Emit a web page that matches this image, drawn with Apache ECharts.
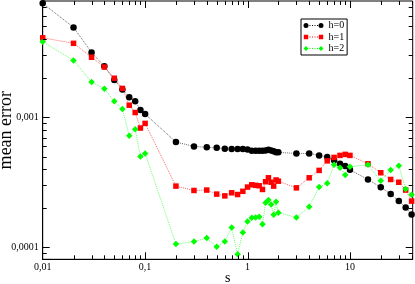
<!DOCTYPE html>
<html><head><meta charset="utf-8">
<script src="https://cdn.jsdelivr.net/npm/echarts@6/dist/echarts.min.js"></script>
<style>html,body{margin:0;padding:0;background:#fff}#c{width:415px;height:284px}</style>
</head><body><div id="c"></div>
<script>
// ---- data ----
const sValues = [0.01,0.02,0.03,0.04,0.05,0.06,0.07,0.08,0.09,0.1,
  0.2,0.3,0.4,0.5,0.6,0.7,0.8,0.9,1.0,
  1.1,1.2,1.3,1.4,1.5,1.6,1.7,1.8,1.9,2.0,
  3,4,5,6,7,8,9,10,
  15,20,25,30,35,40];
const h0 = [0.00753,0.00492,0.00316,0.00247,0.00194,0.00164,0.00143,0.00133,0.00114,0.00106,
  0.000646,0.000598,0.000588,0.000583,0.000573,0.000571,0.000571,0.000571,0.000567,
  0.000553,0.000553,0.000553,0.000553,0.000556,0.000563,0.000556,0.000548,0.00054,0.000538,
  0.000528,0.000528,0.00051,0.000495,0.000467,0.00044,0.000422,0.000395,
  0.000333,0.00029,0.000257,0.000227,0.000203,0.000179];
const h1 = [0.00409,0.00371,0.0029,0.00244,0.002,0.00167,0.00124,0.00109,0.000828,0.000899,
  0.000296,0.000274,0.000276,0.000257,0.000249,0.000263,0.000255,0.00027,0.000291,
  0.000303,0.0003,0.000298,0.000279,0.00032,0.000343,0.000317,0.000296,0.00033,0.000323,
  0.000287,0.000343,0.000391,0.000463,0.000492,0.00051,0.000519,0.00051,
  0.00044,0.000375,0.000333,0.000317,0.000276,0.000227];
const h2 = [0.00382,0.00274,0.00187,0.00166,0.00133,0.00116,0.000721,0.000809,0.000501,0.000528,
  0.000106,0.000111,0.000118,0.000101,0.000111,0.000142,0.0000887,0.00013,0.000158,
  0.000169,0.00017,0.000172,0.000151,0.00022,0.000231,0.000214,0.000178,0.000224,0.000185,
  0.00017,0.000205,0.000291,0.000311,0.000432,0.000409,0.000361,0.000417,
  0.000432,0.000325,0.000394,0.000425,0.000281,0.000254];
const seriesNames = ['h=0','h=1','h=2'];
const xTickExp = [-2,-1,0,1];
const xTickLabels = ['0,01','0,1','1','10'];
const yTickExp = [-4,-3];
const yTickLabels = ['0,0001','0,001'];

// ---- chart ----
const X_MIN = 0.01, X_MAX = 41, Y_MIN = 8.1e-5, Y_MAX = 0.00785;
const FONT = 'Liberation Serif';
function fmt(exps, labels) {
  return function (v) {
    const l = Math.log10(v), e = Math.round(l);
    if (Math.abs(l - e) > 1e-6) return '';
    const i = exps.indexOf(e);
    return i < 0 ? '' : labels[i];
  };
}
const mk = arr => sValues.map((x, i) => [x, arr[i]]);
const dots = ' M6,2.1h1v0.8h-1Z M8.5,2.1h1v0.8h-1Z M11,2.1h1v0.8h-1Z M13.5,2.1h1v0.8h-1Z';
const icons = [
  'path://M0,2.5a2.5,2.5 0 1,0 5,0a2.5,2.5 0 1,0 -5,0Z M15,2.5a2.5,2.5 0 1,0 5,0a2.5,2.5 0 1,0 -5,0Z' + dots,
  'path://M0.3,0.3h4.4v4.4h-4.4Z M15.3,0.3h4.4v4.4h-4.4Z M0,0h0.01v0.01h-0.01Z M19.99,4.99h0.01v0.01h-0.01Z' + dots,
  'path://M2.5,0L5,2.5L2.5,5L0,2.5Z M17.5,0L20,2.5L17.5,5L15,2.5Z' + dots
];
const colors = ['#000000', '#ff0000', '#00ff00'];
const symbols = ['circle', 'rect', 'diamond'];
const sizes = [6.5, 5.5, 6.5];
const datas = [h0, h1, h2];

const chart = echarts.init(document.getElementById('c'), null, {renderer: 'canvas'});
chart.setOption({
  animation: false,
  backgroundColor: '#fff',
  grid: {left: 42.7, right: 2.3, top: 1, bottom: 24.7, show: true, borderColor: '#000', borderWidth: 1,
         containLabel: false, outerBoundsMode: 'none'},
  xAxis: {
    type: 'log', logBase: 10, min: X_MIN, max: X_MAX,
    name: 's', nameLocation: 'middle', nameGap: 12, nameMoveOverlap: false,
    nameTextStyle: {fontFamily: FONT, fontSize: 14, color: '#000'},
    axisLine: {show: true, lineStyle: {color: '#000', width: 1}},
    axisTick: {show: false}, minorTick: {show: false},
    splitLine: {show: false},
    axisLabel: {formatter: fmt(xTickExp, xTickLabels), fontFamily: FONT, fontSize: 10, color: '#000', margin: 3}
  },
  yAxis: {
    type: 'log', logBase: 10, min: Y_MIN, max: Y_MAX,
    name: 'mean error', nameLocation: 'middle', nameRotate: 90, nameGap: 27, nameMoveOverlap: false,
    nameTextStyle: {fontFamily: FONT, fontSize: 18, color: '#000'},
    axisLine: {show: true, lineStyle: {color: '#000', width: 1}},
    axisTick: {show: false}, minorTick: {show: false},
    splitLine: {show: false},
    axisLabel: {formatter: fmt(yTickExp, yTickLabels), fontFamily: FONT, fontSize: 10, color: '#000', margin: 4}
  },
  legend: {
    orient: 'vertical', left: 301, top: 19,
    borderColor: '#000', borderWidth: 1, backgroundColor: '#fff',
    padding: [1.5, 3, 1.5, 2.5], itemGap: 1.5, itemWidth: 20, itemHeight: 5,
    itemStyle: {borderWidth: 0},
    textStyle: {fontFamily: FONT, fontSize: 10, color: '#000'},
    data: seriesNames.map((n, i) => ({name: n, icon: icons[i]}))
  },
  series: seriesNames.map((n, i) => ({
    name: n, type: 'line', data: mk(datas[i]),
    symbol: symbols[i], symbolSize: sizes[i], showSymbol: true,
    itemStyle: {color: colors[i]},
    lineStyle: {color: colors[i], width: 1, type: 'dotted', opacity: 0.6},
    emphasis: {disabled: true}
  }))
});

// ---- log-scale ticks on all four sides, positioned through the axes ----
function px(v) { return chart.convertToPixel({xAxisIndex: 0}, v); }
function py(v) { return chart.convertToPixel({yAxisIndex: 0}, v); }
const L = px(X_MIN), R = px(X_MAX), T = py(Y_MAX), B = py(Y_MIN);
const els = [];
function line(x1, y1, x2, y2) {
  els.push({type: 'line', silent: true, z: 100, shape: {x1, y1, x2, y2}, style: {stroke: '#000', lineWidth: 1}});
}
for (let e = -3; e <= 2; e++) {
  for (let m = 1; m <= 9; m++) {
    const v = m * Math.pow(10, e);
    if (v <= X_MIN * 1.0001 || v >= X_MAX) continue;
    const len = m === 1 ? 7 : 4;
    const x = Math.round(px(v)) + 0.5;
    line(x, B, x, B - len);
    line(x, T, x, T + len);
  }
}
for (let e = -5; e <= -2; e++) {
  for (let m = 1; m <= 9; m++) {
    const v = m * Math.pow(10, e);
    if (v <= Y_MIN || v >= Y_MAX) continue;
    const len = m === 1 ? 7 : 4;
    const y = Math.round(py(v)) + 0.5;
    line(L, y, L + len, y);
    line(R, y, R - len, y);
  }
}
chart.setOption({graphic: {elements: els}});
</script>
</body></html>
